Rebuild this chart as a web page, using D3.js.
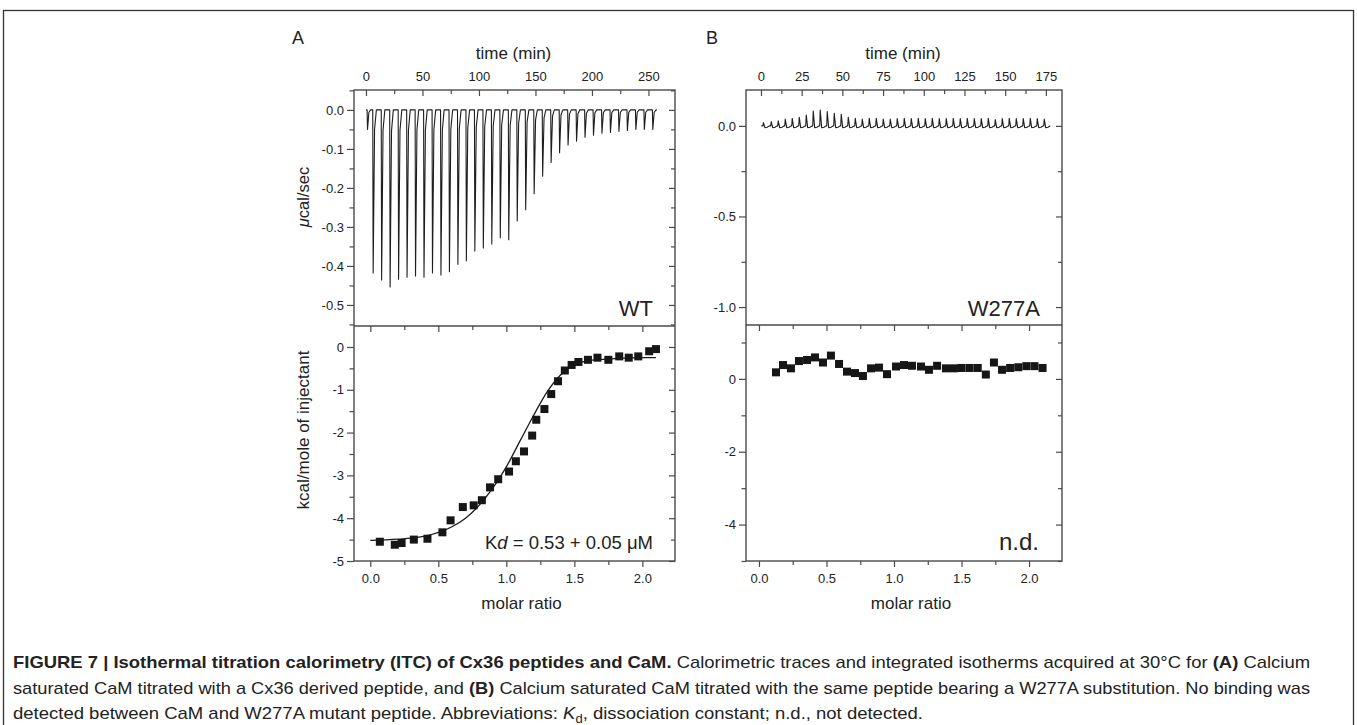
<!DOCTYPE html>
<html>
<head>
<meta charset="utf-8">
<script src="https://d3js.org/d3.v7.min.js"></script>
<style>
  body { margin: 0; background: #fff; }
  svg text { font-family: "Liberation Sans", Arial, Helvetica, sans-serif; fill: #222; }
</style>
</head>
<body>
<svg id="fig" width="1357" height="725"></svg>
<script>
// ---- values ----

// panel A (WT) raw thermogram: injection time (min) and peak height (ucal/sec)
const injTimeA = [1, 6, 13.5, 21, 28.5, 36, 43.5, 51, 58.5, 66, 73.5, 81, 88.5, 96, 103.5, 111,
  118.5, 126, 133.5, 141, 148.5, 156, 163.5, 171, 178.5, 186, 193.5, 201, 208.5, 216, 223.5,
  231, 238.5, 246, 253.5];
const peakA = [-0.05, -0.418, -0.436, -0.454, -0.434, -0.429, -0.426, -0.429, -0.418, -0.423,
  -0.415, -0.396, -0.387, -0.362, -0.354, -0.344, -0.328, -0.333, -0.285, -0.256, -0.215,
  -0.17, -0.135, -0.11, -0.09, -0.08, -0.07, -0.065, -0.06, -0.058, -0.055, -0.053, -0.05,
  -0.05, -0.05];

// panel A integrated heats (kcal/mole of injectant) vs molar ratio
const ratioA = [0.07, 0.18, 0.23, 0.32, 0.42, 0.53, 0.59, 0.68, 0.76, 0.82, 0.88, 0.94, 1.02,
  1.07, 1.13, 1.19, 1.22, 1.28, 1.33, 1.38, 1.43, 1.48, 1.53, 1.60, 1.67, 1.75, 1.83, 1.90,
  1.97, 2.05, 2.10];
const heatA = [-4.55, -4.62, -4.58, -4.50, -4.48, -4.33, -4.05, -3.74, -3.70, -3.58, -3.28,
  -3.09, -2.91, -2.67, -2.44, -2.07, -1.70, -1.45, -1.10, -0.80, -0.55, -0.42, -0.35, -0.30,
  -0.25, -0.30, -0.22, -0.25, -0.22, -0.10, -0.05];

// panel A fitted curve
const fitRatioA = [0, 0.2, 0.4, 0.6, 0.7, 0.8, 0.9, 1.0, 1.1, 1.2, 1.3, 1.4, 1.5, 1.6, 1.8, 2.0, 2.1];
const fitHeatA = [-4.52, -4.49, -4.42, -4.2, -4.0, -3.7, -3.3, -2.8, -2.2, -1.6, -1.05, -0.65,
  -0.42, -0.32, -0.27, -0.25, -0.25];

// panel B (W277A) raw thermogram
const injTimeB = [1.2, 6, 10.3, 14.6, 18.9, 23.2, 27.5, 31.8, 36.1, 40.4, 44.7, 49, 53.3, 57.6,
  61.9, 66.2, 70.5, 74.8, 79.1, 83.4, 87.7, 92, 96.3, 100.6, 104.9, 109.2, 113.5, 117.8, 122.1,
  126.4, 130.7, 135, 139.3, 143.6, 147.9, 152.2, 156.5, 160.8, 165.1, 169.4, 173.7];
const peakB = [0.018, 0.024, 0.028, 0.037, 0.042, 0.048, 0.06, 0.082, 0.088, 0.079, 0.07,
  0.064, 0.048, 0.042, 0.038, 0.042, 0.042, 0.038, 0.038, 0.04, 0.042, 0.04, 0.042, 0.04,
  0.042, 0.04, 0.04, 0.042, 0.04, 0.042, 0.04, 0.04, 0.042, 0.035, 0.04, 0.042, 0.04, 0.04,
  0.042, 0.04, 0.038];

// panel B integrated heats
const ratioB = [0.126, 0.178, 0.237, 0.296, 0.356, 0.415, 0.474, 0.533, 0.593, 0.652, 0.711,
  0.770, 0.830, 0.889, 0.948, 1.015, 1.074, 1.133, 1.20, 1.259, 1.319, 1.385, 1.444, 1.50,
  1.56, 1.62, 1.68, 1.74, 1.80, 1.86, 1.92, 1.98, 2.04, 2.10];
const heatB = [0.18, 0.38, 0.29, 0.49, 0.52, 0.59, 0.45, 0.64, 0.41, 0.20, 0.16, 0.08, 0.29,
  0.31, 0.13, 0.34, 0.38, 0.36, 0.34, 0.25, 0.36, 0.29, 0.29, 0.30, 0.30, 0.30, 0.12, 0.45,
  0.25, 0.30, 0.32, 0.35, 0.35, 0.30];

// tick values
const timeTicksA = [0, 50, 100, 150, 200, 250];
const timeMinorA = [25, 75, 125, 175, 225];
const timeTicksB = [0, 25, 50, 75, 100, 125, 150, 175];
const timeMinorB = [12.5, 37.5, 62.5, 87.5, 112.5, 137.5, 162.5];
const powerTicksA = [0, -0.1, -0.2, -0.3, -0.4, -0.5];
const powerMinorA = [0.05, -0.05, -0.15, -0.25, -0.35, -0.45, -0.55];
const powerTicksB = [0, -0.5, -1.0];
const powerMinorB = [0.25, -0.25, -0.75];
const heatTicksA = [0, -1, -2, -3, -4, -5];
const heatMinorA = [-0.5, -1.5, -2.5, -3.5, -4.5];
const heatTicksB = [0, -2, -4];
const heatMinorB = [1, -1, -3, -5];
const ratioTicks = [0, 0.5, 1.0, 1.5, 2.0];
const ratioMinor = [0.25, 0.75, 1.25, 1.75, 2.25];

// ---- drawing ----
const svg = d3.select("#fig");
const axisColor = "#4a4a4a";

svg.append("rect")
  .attr("x", 3.5).attr("y", 10.5).attr("width", 1350).attr("height", 740)
  .attr("fill", "none").attr("stroke", "#333").attr("stroke-width", 1.3);

function inDomain(s, v) {
  const d = s.domain();
  return v >= Math.min(d[0], d[1]) && v <= Math.max(d[0], d[1]);
}
function addTicks(g, axisFn, scale, major, minor, majLen, minLen, fmt, pad) {
  const gMin = g.append("g").call(axisFn(scale).tickValues(minor.filter(v => inDomain(scale, v)))
    .tickSize(minLen).tickFormat(""));
  const gMaj = g.append("g").call(axisFn(scale).tickValues(major).tickSize(majLen)
    .tickPadding(pad || 3).tickFormat(fmt || ""));
  [gMin, gMaj].forEach(a => {
    a.select(".domain").remove();
    a.attr("font-family", null).attr("font-size", null);
    a.selectAll("line").attr("stroke", axisColor).attr("stroke-width", 1.2);
    a.selectAll("text").style("font-size", "13px").attr("fill", "#2a2a2a");
  });
  return gMaj;
}

function drawPanel(cfg) {
  const x = d3.scaleLinear().domain(cfg.timeDomain).range([cfg.left, cfg.right]);
  const yTop = d3.scaleLinear().domain(cfg.powerDomain).range([cfg.mid, cfg.top]);
  const xr = d3.scaleLinear().domain(cfg.ratioDomain).range([cfg.left, cfg.right]);
  const yBot = d3.scaleLinear().domain(cfg.heatDomain).range([cfg.bottom, cfg.mid]);
  const g = svg.append("g");

  // top axis (time), ticks pointing inward
  addTicks(g.append("g").attr("transform", `translate(0,${cfg.top})`), d3.axisTop, x,
    cfg.timeTicks, cfg.timeMinor, -6, -4, d => d, 9);
  // left axes
  addTicks(g.append("g").attr("transform", `translate(${cfg.left},0)`), d3.axisLeft, yTop,
    cfg.powerTicks, cfg.powerMinor, 7, 4.5, d => d.toFixed(1), 3);
  addTicks(g.append("g").attr("transform", `translate(${cfg.left},0)`), d3.axisLeft, yBot,
    cfg.heatTicks, cfg.heatMinor, 7, 4.5, d => d, 3);
  // right mirror ticks
  addTicks(g.append("g").attr("transform", `translate(${cfg.right},0)`), d3.axisRight, yTop,
    cfg.powerTicks, cfg.powerMinor, -6, -4);
  addTicks(g.append("g").attr("transform", `translate(${cfg.right},0)`), d3.axisRight, yBot,
    cfg.heatTicks, cfg.heatMinor, -6, -4);
  // ticks under the divider and on the bottom axis
  addTicks(g.append("g").attr("transform", `translate(0,${cfg.mid})`), d3.axisBottom, xr,
    ratioTicks, ratioMinor, 6, 4);
  addTicks(g.append("g").attr("transform", `translate(0,${cfg.bottom})`), d3.axisBottom, xr,
    ratioTicks, ratioMinor, 6, 4, d => d.toFixed(1), 7);

  // frame and divider
  g.append("rect").attr("x", cfg.left).attr("y", cfg.top)
    .attr("width", cfg.right - cfg.left).attr("height", cfg.bottom - cfg.top)
    .attr("fill", "none").attr("stroke", axisColor).attr("stroke-width", 1.4);
  g.append("line").attr("x1", cfg.left).attr("x2", cfg.right)
    .attr("y1", cfg.mid).attr("y2", cfg.mid)
    .attr("stroke", axisColor).attr("stroke-width", 1.4);

  // thermogram
  const pts = [[cfg.injTime[0] - 1, 0]];
  cfg.injTime.forEach((t, i) => {
    const p = cfg.peak[i];
    cfg.spike.forEach(s => pts.push([t + s[0], p * s[1] + s[2]]));
  });
  pts.push([cfg.injTime[cfg.injTime.length - 1] + 4, 0]);
  g.append("path").datum(pts)
    .attr("d", d3.line().x(d => x(d[0])).y(d => yTop(d[1])))
    .attr("fill", "none").attr("stroke", "#1e1e1e").attr("stroke-width", 1.1)
    .attr("stroke-linejoin", "round");

  // fitted curve
  if (cfg.fitRatio) {
    g.append("path").datum(d3.zip(cfg.fitRatio, cfg.fitHeat))
      .attr("d", d3.line().curve(d3.curveMonotoneX).x(d => xr(d[0])).y(d => yBot(d[1])))
      .attr("fill", "none").attr("stroke", "#1a1a1a").attr("stroke-width", 1.3);
  }
  // integrated heats
  const sq = 8;
  g.selectAll("rect.pt").data(d3.zip(cfg.ratio, cfg.heat)).join("rect")
    .attr("class", "pt")
    .attr("x", d => xr(d[0]) - sq / 2).attr("y", d => yBot(d[1]) - sq / 2)
    .attr("width", sq).attr("height", sq).attr("fill", "#161616");

  // labels
  const cx = (cfg.left + cfg.right) / 2;
  g.append("text").attr("x", cfg.letterX).attr("y", 44).style("font-size", "18px")
    .text(cfg.letter);
  g.append("text").attr("x", cx - 1).attr("y", 59)
    .attr("text-anchor", "middle").style("font-size", "17px").text("time (min)");
  g.append("text").attr("x", cx + 7).attr("y", 609)
    .attr("text-anchor", "middle").style("font-size", "17px").text("molar ratio");
  g.append("text").attr("x", cfg.right - 22).attr("y", 316)
    .attr("text-anchor", "end").style("font-size", "22px").text(cfg.name);
  return { x, yTop, xr, yBot, g };
}

drawPanel({
  letter: "A", letterX: 292, name: "WT",
  left: 354, right: 675, top: 90, mid: 326, bottom: 561,
  timeDomain: [-10.6, 273.5], powerDomain: [-0.554, 0.051],
  ratioDomain: [-0.12, 2.24], heatDomain: [-5, 0.49],
  timeTicks: timeTicksA, timeMinor: timeMinorA,
  powerTicks: powerTicksA, powerMinor: powerMinorA,
  heatTicks: heatTicksA, heatMinor: heatMinorA,
  injTime: injTimeA, peak: peakA,
  spike: [[0, 0, 0], [0.35, 1, 0], [1.6, 0.12, 0], [3.2, 0, 0]],
  ratio: ratioA, heat: heatA, fitRatio: fitRatioA, fitHeat: fitHeatA
});
drawPanel({
  letter: "B", letterX: 706, name: "W277A",
  left: 746, right: 1062, top: 90, mid: 325, bottom: 561,
  timeDomain: [-9.2, 184.9], powerDomain: [-1.099, 0.198],
  ratioDomain: [-0.096, 2.244], heatDomain: [-5, 1.48],
  timeTicks: timeTicksB, timeMinor: timeMinorB,
  powerTicks: powerTicksB, powerMinor: powerMinorB,
  heatTicks: heatTicksB, heatMinor: heatMinorB,
  injTime: injTimeB, peak: peakB,
  spike: [[0, 0, 0], [0.3, 1, 0], [1.2, 0, -0.01], [2.6, 0, -0.008], [3.9, 0, 0]],
  ratio: ratioB, heat: heatB
});

// axis titles (panel A only)
svg.append("text").attr("transform", "translate(309,197) rotate(-90)")
  .attr("text-anchor", "middle").style("font-size", "16.5px")
  .call(t => {
    t.append("tspan").style("font-style", "italic").text("\u03bc");
    t.append("tspan").text("cal/sec");
  });
svg.append("text").attr("transform", "translate(309,430) rotate(-90)")
  .attr("text-anchor", "middle").style("font-size", "17px")
  .text("kcal/mole of injectant");

// annotations
svg.append("text").attr("x", 653).attr("y", 549).attr("text-anchor", "end")
  .style("font-size", "18.5px")
  .call(t => {
    t.append("tspan").text("K");
    t.append("tspan").style("font-style", "italic").text("d");
    t.append("tspan").text(" = 0.53 + 0.05 \u03bcM");
  });
svg.append("text").attr("x", 1039).attr("y", 550).attr("text-anchor", "end")
  .style("font-size", "24px").text("n.d.");

// caption
const capFont = "17px";
const cap1 = svg.append("text").attr("x", 13).attr("y", 668).style("font-size", capFont)
  .attr("textLength", 1297).attr("lengthAdjust", "spacingAndGlyphs");
cap1.append("tspan").style("font-weight", "bold")
  .text("FIGURE 7 | Isothermal titration calorimetry (ITC) of Cx36 peptides and CaM.");
cap1.append("tspan").text(" Calorimetric traces and integrated isotherms acquired at 30\u00b0C for ");
cap1.append("tspan").style("font-weight", "bold").text("(A)");
cap1.append("tspan").text(" Calcium");

const cap2 = svg.append("text").attr("x", 13).attr("y", 694).style("font-size", capFont)
  .attr("textLength", 1297).attr("lengthAdjust", "spacingAndGlyphs");
cap2.append("tspan").text("saturated CaM titrated with a Cx36 derived peptide, and ");
cap2.append("tspan").style("font-weight", "bold").text("(B)");
cap2.append("tspan").text(" Calcium saturated CaM titrated with the same peptide bearing a W277A substitution. No binding was");

const cap3 = svg.append("text").attr("x", 13).attr("y", 719).style("font-size", capFont)
  .attr("textLength", 910).attr("lengthAdjust", "spacingAndGlyphs");
cap3.append("tspan").text("detected between CaM and W277A mutant peptide. Abbreviations: ");
cap3.append("tspan").style("font-style", "italic").text("K");
cap3.append("tspan").attr("dy", 4).style("font-size", "12px").text("d");
cap3.append("tspan").attr("dy", -4).text(", dissociation constant; n.d., not detected.");
</script>
</body>
</html>
